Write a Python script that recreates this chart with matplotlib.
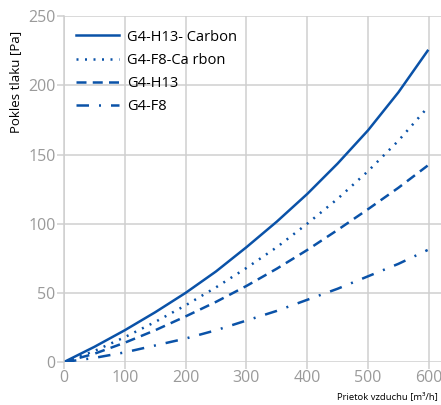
import matplotlib
matplotlib.use("Agg")
import matplotlib.pyplot as plt

# prietok vzduchu [m3/h]
flow = [0, 50, 100, 150, 200, 250, 300, 350, 400, 450, 500, 550, 598]

# pokles tlaku [Pa]
h13_carbon = [0, 11, 23, 36, 50, 65.5, 83, 101.5, 121.5, 143.5, 167.5, 195, 225]
f8_carbon = [0, 8, 18, 29, 41, 54, 68, 83, 100, 118, 138, 160, 184]
h13 = [0, 6, 14, 23, 33, 43.5, 55, 67.5, 81, 95.5, 110.5, 126, 142]
f8 = [0, 3, 7, 12, 17, 23, 30, 37, 45, 53, 62, 71, 81]

labels = ["G4-H13- Carbon", "G4-F8-Ca rbon", "G4-H13", "G4-F8"]
x_ticks = [0, 100, 200, 300, 400, 500, 600]
y_ticks = [0, 50, 100, 150, 200, 250]

blue = "#0a52a8"
grey = "#9a9a9a"
grid = "#cfcfcf"

plt.rcParams["font.family"] = ["Open Sans", "DejaVu Sans"]

fig = plt.figure(figsize=(4.41, 4.05), dpi=100)
ax = fig.add_axes([0.145, 0.106, 0.855, 0.854])

ax.plot(flow, h13_carbon, color=blue, lw=1.8, ls="-", label=labels[0])
ax.plot(flow, f8_carbon, color=blue, lw=1.8, ls=(0, (0.8, 2.6)), label=labels[1])
ax.plot(flow, h13, color=blue, lw=1.8, ls=(0, (4, 2.5)), label=labels[2])
ax.plot(flow, f8, color=blue, lw=1.8, ls=(0, (5, 4, 0.8, 4)), label=labels[3])

ax.set_xlim(0, 620)
ax.set_ylim(0, 250)
ax.set_xticks(x_ticks)
ax.set_yticks(y_ticks)
ax.grid(True, color=grid, lw=1.1)
ax.set_axisbelow(True)
for s in ["top", "right", "bottom"]:
    ax.spines[s].set_visible(False)
ax.spines["left"].set_color(grid)
ax.spines["left"].set_linewidth(1.1)
ax.tick_params(colors=grey, labelsize=11.5, length=5, width=1.1, pad=1)
ax.tick_params(axis="both", color=grid)

ax.legend(loc="upper left", frameon=False, fontsize=10.5,
          handlelength=3.0, handletextpad=0.5, labelspacing=0.55,
          bbox_to_anchor=(0.0, 0.995), borderaxespad=0.4)

fig.text(16 / 441, 1 - 82 / 405, "Pokles tlaku [Pa]", rotation=90,
         ha="center", va="center", fontsize=9.5, color="black")
fig.text(438 / 441, 1 - 397 / 405, "Prietok vzduchu [m³/h]",
         ha="right", va="center", fontsize=6.8, color="black")

fig.savefig("out.png", dpi=100)
